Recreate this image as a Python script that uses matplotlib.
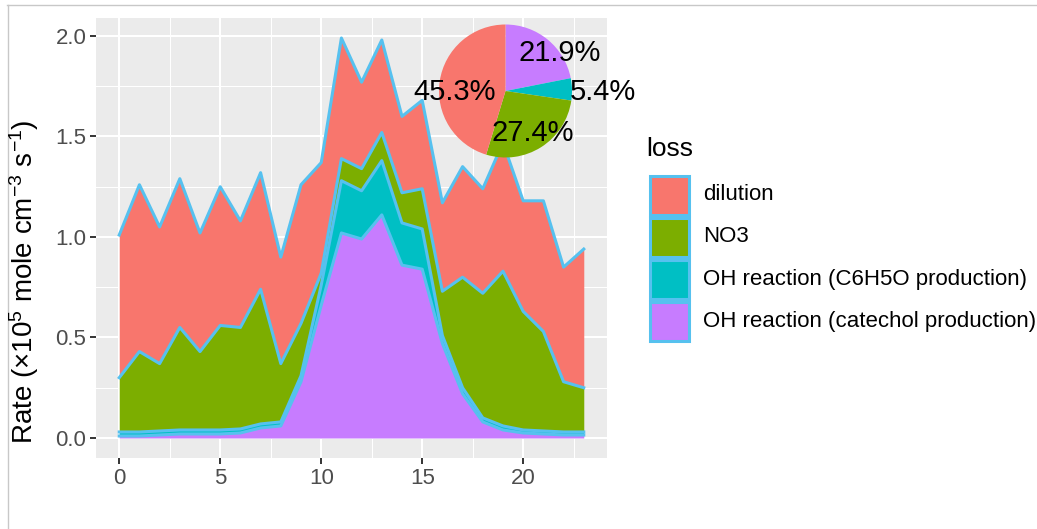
import numpy as np
import matplotlib
matplotlib.use("Agg")
import matplotlib.pyplot as plt
from matplotlib.patches import Rectangle
from matplotlib.lines import Line2D

plt.rcParams['font.family'] = ['Liberation Sans', 'DejaVu Sans']
plt.rcParams['mathtext.fontset'] = 'custom'
plt.rcParams['mathtext.rm'] = 'Liberation Sans'
plt.rcParams['mathtext.it'] = 'Liberation Sans'

# hourly loss rates (x10^5 mole cm-3 s-1)
hours = list(range(24))
catechol = [0.01, 0.01, 0.015, 0.02, 0.02, 0.02, 0.025, 0.05, 0.06, 0.28, 0.66, 1.02,
            0.99, 1.11, 0.86, 0.84, 0.47, 0.22, 0.08, 0.04, 0.025, 0.02, 0.015, 0.015]
c6h5o = [0.02, 0.02, 0.02, 0.02, 0.02, 0.02, 0.02, 0.02, 0.02, 0.03, 0.10, 0.26,
         0.24, 0.27, 0.21, 0.20, 0.04, 0.03, 0.02, 0.02, 0.015, 0.015, 0.015, 0.015]
no3 = [0.27, 0.40, 0.335, 0.51, 0.39, 0.52, 0.505, 0.67, 0.29, 0.26, 0.06, 0.11,
       0.11, 0.14, 0.15, 0.20, 0.22, 0.55, 0.62, 0.77, 0.59, 0.495, 0.25, 0.22]
dilution = [0.71, 0.83, 0.68, 0.74, 0.59, 0.69, 0.53, 0.58, 0.53, 0.69, 0.55, 0.60,
            0.43, 0.46, 0.38, 0.44, 0.44, 0.55, 0.52, 0.64, 0.55, 0.65, 0.57, 0.69]

legend_labels = ['dilution', 'NO3', 'OH reaction (C6H5O production)',
                 'OH reaction (catechol production)']
pie_pct = [21.9, 5.4, 27.4, 45.3]   # catechol, C6H5O, NO3, dilution

COLORS = {'dilution': '#F8766D', 'NO3': '#7CAE00',
          'C6H5O': '#00BFC4', 'catechol': '#C77CFF'}
LINE_C = '#56C1EF'
W, H = 1037, 529


def px_box(left, top, width, height):
    return [left / W, (H - top - height) / H, width / W, height / H]


def main():
    fig = plt.figure(figsize=(W / 100, H / 100), dpi=100)
    fig.patch.set_facecolor('white')

    ax = fig.add_axes(px_box(96, 18, 511, 440))
    ax.set_facecolor('#EBEBEB')
    ax.set_xlim(-1.15, 24.15)
    ax.set_ylim(-0.0995, 2.0895)

    ax.set_xticks([0, 5, 10, 15, 20])
    ax.set_xticks([2.5, 7.5, 12.5, 17.5, 22.5], minor=True)
    ax.set_yticks([0.0, 0.5, 1.0, 1.5, 2.0])
    ax.set_yticklabels(['0.0', '0.5', '1.0', '1.5', '2.0'])
    ax.set_yticks([0.25, 0.75, 1.25, 1.75], minor=True)
    ax.grid(which='major', color='white', lw=1.5)
    ax.grid(which='minor', color='white', lw=0.75)
    ax.set_axisbelow(True)
    for s in ax.spines.values():
        s.set_visible(False)
    ax.tick_params(which='major', length=4, width=1.4, color='#333333',
                   labelsize=16, labelcolor='#4D4D4D', pad=3)
    ax.tick_params(which='minor', length=0)

    # stacked areas
    x = np.array(hours)
    layers = [np.array(catechol), np.array(c6h5o), np.array(no3), np.array(dilution)]
    keys = ['catechol', 'C6H5O', 'NO3', 'dilution']
    base = np.zeros(len(hours))
    tops = []
    for vals, k in zip(layers, keys):
        top = base + vals
        ax.fill_between(x, base, top, color=COLORS[k], lw=0, zorder=2)
        tops.append(top)
        base = top
    for top in tops:
        ax.plot(x, top, color=LINE_C, lw=2.2, zorder=3, solid_joinstyle='round')

    ax.set_ylabel('Rate (×10$^{5}$ mole cm$^{-3}$ s$^{-1}$)', fontsize=20, color='black')
    ax.yaxis.set_label_coords(-0.108, 0.40)

    # pie inset
    pax = fig.add_axes(px_box(439, 24.5, 133, 133))
    pax.pie(pie_pct, colors=[COLORS[k] for k in keys], startangle=90,
            counterclock=False, radius=1)
    pax.set_xlim(-1, 1)
    pax.set_ylim(-1, 1)
    pax.axis('off')
    label_pos = [(0.82, 0.57), (1.47, -0.02), (0.41, -0.63), (-0.76, -0.02)]
    for pct, (lx, ly) in zip(pie_pct, label_pos):
        pax.text(lx, ly, f'{pct:.1f}%', fontsize=21, ha='center', va='center',
                 clip_on=False, zorder=5)

    # overlay in pixel coords: frame lines
    ov = fig.add_axes([0, 0, 1, 1], zorder=-1)
    ov.set_xlim(0, W)
    ov.set_ylim(H, 0)
    ov.axis('off')
    ov.add_line(Line2D([7, W], [4.5, 4.5], color='#C8C8C8', lw=1))
    ov.add_line(Line2D([7.5, 7.5], [4.5, H], color='#C8C8C8', lw=1))

    # legend drawn in pixel coords
    lax = fig.add_axes([0, 0, 1, 1], zorder=5)
    lax.set_xlim(0, W)
    lax.set_ylim(H, 0)
    lax.axis('off')
    lax.patch.set_alpha(0)
    lax.text(646, 149, 'loss', fontsize=19, va='center', ha='left')
    legend_keys = ['dilution', 'NO3', 'C6H5O', 'catechol']
    for i, (k, lab) in enumerate(zip(legend_keys, legend_labels)):
        y0 = 175.5 + 42 * i
        lax.add_patch(Rectangle((649.5, y0), 39, 39, facecolor=COLORS[k],
                                edgecolor=LINE_C, lw=2.2))
        lax.text(703, y0 + 19.5, lab, fontsize=16, va='center', ha='left')

    fig.savefig('out.png', dpi=100)
    plt.close(fig)


if __name__ == '__main__':
    main()
